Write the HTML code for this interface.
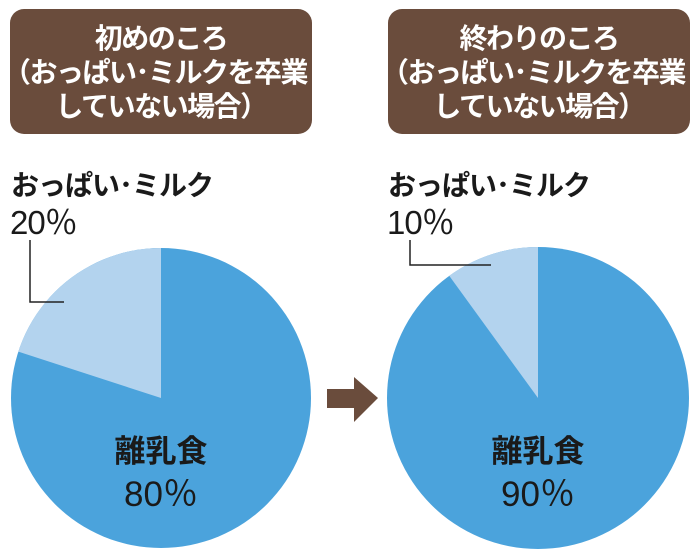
<!DOCTYPE html>
<html><head><meta charset="utf-8"><style>
html,body{margin:0;padding:0;background:#fff;}
body{width:700px;height:560px;position:relative;overflow:hidden;font-family:"Liberation Sans","Noto Sans CJK JP",sans-serif;}
.box{position:absolute;top:9px;width:302px;height:125px;background:#6a4c3c;border-radius:14px;color:#fff;font-weight:bold;font-size:28px;line-height:34px;text-align:center;padding-top:13px;box-sizing:border-box;letter-spacing:-1.5px;white-space:nowrap;}
.lbl{position:absolute;font-size:28px;font-weight:bold;color:#1a1a1a;letter-spacing:-1px;white-space:nowrap;}
.pct{position:absolute;font-size:33px;color:#1a1a1a;letter-spacing:-1px;}
.c{position:absolute;text-align:center;width:200px;color:#1a1a1a;white-space:nowrap;}
</style></head><body>
<div class="box" style="left:10px">初めのころ<br><span style="margin-left:-12px">（おっぱい･ミルクを卒業</span><br>していない場合）</div>
<div class="box" style="left:388px">終わりのころ<br><span style="margin-left:-12px">（おっぱい･ミルクを卒業</span><br>していない場合）</div>
<svg width="700" height="560" style="position:absolute;left:0;top:0">
<circle cx="161" cy="398" r="150" fill="#4ba3dc"/>
<path d="M161,398 L161,248 A150,150 0 0,0 18.3,351.6 Z" fill="#b3d3ee"/>
<circle cx="538" cy="398" r="151" fill="#4ba3dc"/>
<path d="M538,398 L538,247 A151,151 0 0,0 449.2,275.8 Z" fill="#b3d3ee"/>
<polyline points="30,240 30,302 64,302" fill="none" stroke="#222" stroke-width="1.5"/>
<polyline points="410,240 410,265 491,265" fill="none" stroke="#222" stroke-width="1.5"/>
<rect x="327" y="389" width="28" height="19" fill="#6a4c3c"/>
<polygon points="354,377 378,398 354,422" fill="#6a4c3c"/>
</svg>
<div class="lbl" style="left:11px;top:164px">おっぱい･ミルク</div>
<div class="pct" style="left:10px;top:196px">20％</div>
<div class="lbl" style="left:388px;top:164px">おっぱい･ミルク</div>
<div class="pct" style="left:387px;top:196px">10％</div>
<div class="c" style="left:61px;top:426px;font-size:31px;font-weight:bold">離乳食</div>
<div class="c" style="left:61px;top:466px;font-size:35px">80％</div>
<div class="c" style="left:438px;top:426px;font-size:31px;font-weight:bold">離乳食</div>
<div class="c" style="left:438px;top:466px;font-size:35px">90％</div>
</body></html>
